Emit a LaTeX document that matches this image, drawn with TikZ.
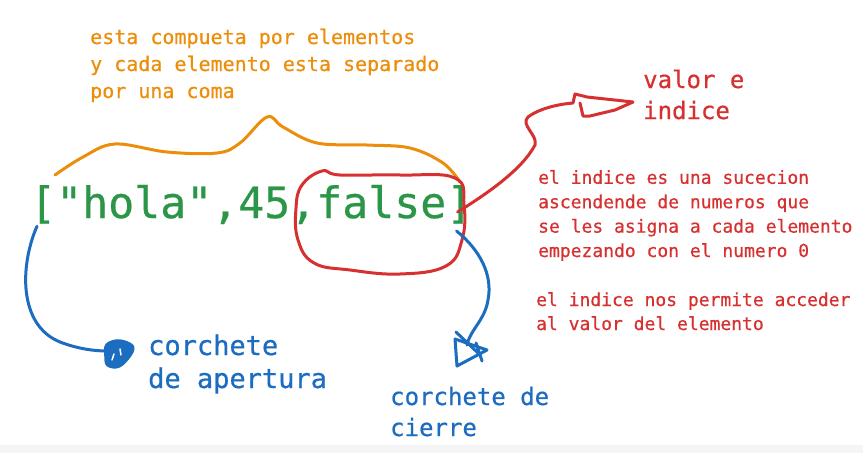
\documentclass[tikz,border=0pt]{standalone}
\usepackage{fontspec}
\setmonofont[FakeBold=0.6]{DejaVu Sans Mono}
\usepackage{tikz}
\usetikzlibrary{calc}
\definecolor{naranja}{RGB}{236,142,12}
\definecolor{verde}{RGB}{44,150,72}
\definecolor{rojo}{RGB}{214,48,48}
\definecolor{azul}{RGB}{28,108,192}
\tikzstyle{trazo}=[line width=3pt,line cap=round,line join=round]
\tikzstyle{texto}=[inner sep=0pt,anchor=base west,align=left]

\begin{document}
\begin{tikzpicture}[x=1pt,y=-1pt]
\useasboundingbox (0,0) rectangle (863,453);
\fill[black!4] (0,445) rectangle (863,453);
	%textos (base = ultima linea)
	\node[texto,text=verde,font=\ttfamily\fontsize{43.2}{44}\selectfont] (lista) at (30,218) {["hola",45,false]};
	\node[texto,text=naranja,font=\ttfamily\fontsize{20}{27}\selectfont] (desc) at (90,98) {esta compueta por elementos\\y cada elemento esta separado\\por una coma};
	\node[texto,text=rojo,font=\ttfamily\fontsize{24}{31}\selectfont] (valor) at (643,119) {valor e\\indice};
	\node[texto,text=rojo,font=\ttfamily\fontsize{18}{24.4}\selectfont] (indice) at (538,257) {el indice es una sucecion\\ascendende de numeros que\\se les asigna a cada elemento\\empezando con el numero 0};
	\node[texto,text=rojo,font=\ttfamily\fontsize{18}{24}\selectfont] (acceso) at (536,330) {el indice nos permite acceder\\al valor del elemento};
	\node[texto,text=azul,font=\ttfamily\fontsize{27}{33}\selectfont] (apertura) at (148,388) {corchete\\de apertura};
	\node[texto,text=azul,font=\ttfamily\fontsize{24}{31}\selectfont] (cierre) at (390,436) {corchete de\\cierre};

	%llave naranja
	\draw[trazo,naranja] plot[smooth,tension=0.6] coordinates {(55,175) (83,157) (115,144) (167,152) (217,153) (240,143) (267,117) (283,127) (317,143) (367,145) (410,148) (443,163) (460,182)};

	%lazo rojo
	\draw[trazo,rojo] plot[smooth cycle,tension=0.7] coordinates {(322,171) (340,175) (400,175) (455,178) (464,205) (462,240) (446,266) (400,274) (350,270) (314,263) (298,240) (296,208) (302,185)};
	\coordinate (R) at ($(lista.base east)+(-15,-6)$);
	\coordinate (F) at (573,103);
	\draw[trazo,rojo] (R) .. controls (485,195) and (522,170) .. (535,145) .. controls (538,135) and (520,125) .. (528,117) .. controls (540,108) and (560,104) .. (F);
	\draw[trazo,rojo] (F) -- (575,94) -- (587,97) -- (633,102) -- (615,110) -- (590,116) -- (583,116) -- (580,103);

	%flechas azules
	\coordinate (A) at ($(lista.south west)+(7,2)$);
	\coordinate (P) at (107,351);
	\draw[trazo,azul] (A) .. controls (20,265) and (18,325) .. (60,342) .. controls (78,349) and (95,351) .. (P);
	\filldraw[trazo,azul,line width=3.5pt] plot[smooth cycle,tension=0.6] coordinates {(107,345) (119,341) (132,346) (130,355) (119,366) (108,365) (106,356)};
	\draw[trazo,white,line width=1.5pt] (114,354) -- (112,360) (120,349) -- (121,355);
	\coordinate (B) at ($(lista.base east)+(-16,13)$);
	\coordinate (Q) at (467,345);
	\draw[trazo,azul] (B) .. controls (480,250) and (493,275) .. (488,300) .. controls (485,320) and (470,330) .. (Q);
	\draw[trazo,azul] (455,339) -- (457,366) -- (487,350) -- cycle;
	\draw[trazo,azul] (456,332) -- (478,353) (476,343) -- (482,361);
\end{tikzpicture}
\end{document}
